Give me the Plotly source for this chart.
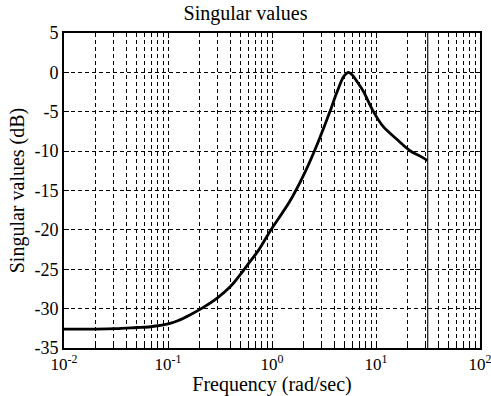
import numpy as np
import plotly.graph_objects as go

# Data (log10 of frequency in rad/sec, singular value in dB)
log_freq = [-2.0, -1.7, -1.5, -1.3, -1.17, -1.0, -0.9, -0.79, -0.68, -0.53, -0.40,
            -0.26, -0.21, -0.13, -0.02, 0.17, 0.32, 0.445, 0.558, 0.622, 0.686,
            0.72, 0.735, 0.77, 0.814, 0.878, 0.974, 1.07, 1.2, 1.327, 1.42, 1.497]
sv_db = [-32.6, -32.6, -32.55, -32.4, -32.3, -31.95, -31.5, -30.8, -30.0, -28.7, -27.2,
         -24.9, -24.0, -22.6, -20.2, -16.4, -12.6, -8.8, -4.95, -2.6, -0.6,
         -0.1, 0.0, -0.3, -1.1, -2.4, -4.95, -6.9, -8.5, -9.95, -10.6, -11.2]
nyquist_freq = 31.4

x_tick_vals = [0.01, 0.1, 1, 10, 100]
x_tick_text = ["10<sup>-2</sup>", "10<sup>-1</sup>", "10<sup>0</sup>", "10<sup>1</sup>", "10<sup>2</sup>"]
y_tick_vals = [5, 0, -5, -10, -15, -20, -25, -30, -35]
y_tick_text = ["5", "0", "-5", "-10", "-15", "-20", "-25", "-30", "-35"]

freq = [10 ** v for v in log_freq]
minor_vals = [m * 10 ** d for d in range(-2, 2) for m in range(2, 10)]

FONT = "Liberation Serif"

fig = go.Figure()
fig.add_trace(go.Scatter(x=freq, y=sv_db, mode="lines",
                         line=dict(color="black", width=2.8, shape="spline", smoothing=0.8),
                         showlegend=False))
fig.add_trace(go.Scatter(x=[nyquist_freq, nyquist_freq], y=[y_tick_vals[0], y_tick_vals[-1]],
                         mode="lines", line=dict(color="#222222", width=1.3),
                         showlegend=False))

grid = dict(gridcolor="black", gridwidth=1.2, griddash="4px,3px")

fig.update_layout(
    width=491, height=396,
    margin=dict(l=64, r=11, t=33, b=48),
    paper_bgcolor="white", plot_bgcolor="white",
    font=dict(family=FONT, color="black", size=16),
    title=dict(text="Singular values", x=0.5, xanchor="center", y=0.967, yanchor="middle",
               font=dict(family=FONT, size=20, color="black")),
    xaxis=dict(type="log", range=[-2, 2], tickmode="array", tickvals=x_tick_vals,
               ticktext=x_tick_text, showgrid=True, **grid, automargin=False,
               minor=dict(tickmode="array", tickvals=minor_vals, showgrid=True,
                          gridcolor="black", gridwidth=1.2, griddash="4px,3px",
                          ticks="inside", ticklen=3, tickcolor="black"),
               ticks="inside", ticklen=5, tickcolor="black",
               showline=True, linecolor="black", linewidth=2, mirror="allticks",
               zeroline=False, ticklabelshift=0, ticklabelstandoff=0,
               ticklabeloverflow="allow",
               title=dict(text="Frequency (rad/sec)", font=dict(family=FONT, size=20, color="black"),
                          standoff=0),
               tickfont=dict(family=FONT, size=17, color="black")),
    yaxis=dict(range=[-35, 5], tickmode="array", tickvals=y_tick_vals, ticktext=y_tick_text,
               showgrid=True, **grid, automargin=False,
               ticks="inside", ticklen=5, tickcolor="black",
               showline=True, linecolor="black", linewidth=2, mirror="allticks",
               zeroline=False, ticklabeloverflow="allow",
               title=dict(text="Singular values (dB)", font=dict(family=FONT, size=20, color="black"),
                          standoff=4),
               tickfont=dict(family=FONT, size=18, color="black")),
)

fig.write_html("out.html")
